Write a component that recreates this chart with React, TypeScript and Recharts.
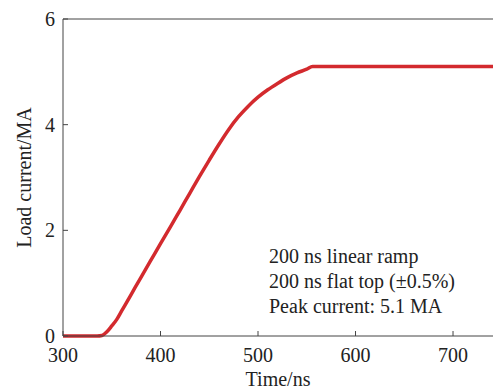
import React from 'react';
import { LineChart, Line, XAxis, YAxis, ReferenceLine } from 'recharts';

// time in ns, load current in MA
const TIMES = [300, 310, 320, 330, 335, 340, 345, 350, 355, 360, 370, 380, 390, 400, 410, 420, 430, 440, 450, 460, 470, 480, 490, 500, 510, 520, 530, 540, 550, 556, 560, 600, 650, 700, 741];
const CURRENT = [0, 0, 0, 0, 0, 0.01, 0.08, 0.19, 0.31, 0.47, 0.79, 1.11, 1.43, 1.75, 2.06, 2.38, 2.7, 3.02, 3.33, 3.63, 3.91, 4.15, 4.35, 4.52, 4.66, 4.78, 4.89, 4.98, 5.05, 5.1, 5.1, 5.1, 5.1, 5.1, 5.1];

const X_TICKS = [300, 400, 500, 600, 700];
const Y_TICKS = [0, 2, 4, 6];
const NOTES = ['200 ns linear ramp', '200 ns flat top (±0.5%)', 'Peak current: 5.1 MA'];

const data = TIMES.map((t, i) => ({ t, i: CURRENT[i] }));

const FONT = '"Liberation Serif", "Times New Roman", serif';
const AXIS = '#444';
const tick = { fill: '#222', fontSize: 20, fontFamily: FONT };

export default function App() {
    return (
        <div style={{ position: 'absolute', left: 0, top: 0, width: 493, height: 392, background: '#fff' }}>
            <LineChart width={493} height={392} data={data} margin={{ top: 19, right: 0, bottom: 0, left: 0 }}>
                <XAxis dataKey="t" type="number" domain={[300, 741]} ticks={X_TICKS} allowDataOverflow
                    height={56} tickSize={-5} tickMargin={17} stroke={AXIS} tick={tick}
                    label={{ content: () => <text x={278} y={386} textAnchor="middle" fontSize={20} fontFamily={FONT} fill="#222">Time/ns</text> }} />
                <YAxis type="number" domain={[0, 6]} ticks={Y_TICKS} width={63}
                    tickSize={-5} tickMargin={13} stroke={AXIS} tick={tick}
                    label={{ content: () => <text x={31} y={177.5} transform="rotate(-90, 31, 177.5)" textAnchor="middle" fontSize={20} fontFamily={FONT} fill="#222">Load current/MA</text> }} />
                <ReferenceLine y={6} stroke={AXIS} />
                <Line type="monotone" dataKey="i" stroke="#d32a2e" strokeWidth={3.5} dot={false} isAnimationActive={false} />
            </LineChart>
            <div style={{ position: 'absolute', left: 269, top: 244, fontFamily: FONT, fontSize: 20, lineHeight: '25px', color: '#222', whiteSpace: 'nowrap' }}>
                {NOTES.map(n => <div key={n}>{n}</div>)}
            </div>
        </div>
    );
}
